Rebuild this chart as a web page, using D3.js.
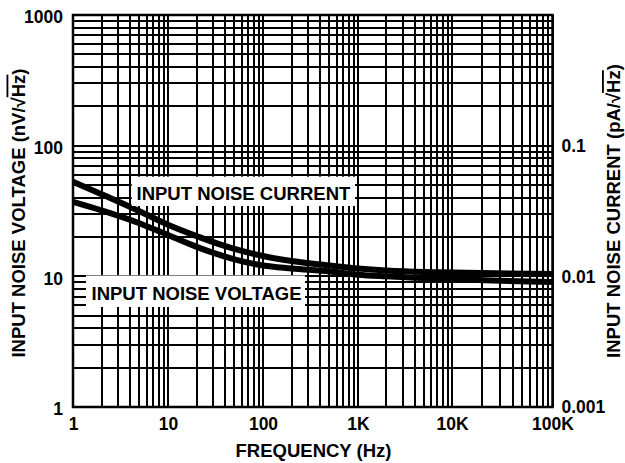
<!DOCTYPE html>
<html>
<head>
<meta charset="utf-8">
<script src="https://cdn.jsdelivr.net/npm/d3@7"></script>
<style>
  html, body { margin: 0; padding: 0; background: #fff; }
  svg { display: block; }
  text { font-family: "Liberation Sans", Arial, Helvetica, sans-serif; font-weight: bold; fill: #000; }
</style>
</head>
<body>
<svg id="chart" width="625" height="463"></svg>
<script>
// ---- data ----
const freqHz       = [1, 2, 5, 10, 20, 50, 100, 200, 500, 1000, 2000, 5000, 10000, 100000];
const voltageNoise = [37.2, 32.0, 25.5, 20.7, 16.8, 13.5, 12.1, 11.5, 10.9, 10.3, 10.0, 9.7, 9.5, 9.05]; // nV/rtHz
const currentNoise = [0.053, 0.0425, 0.0315, 0.0248, 0.0203, 0.0162, 0.0143, 0.0131, 0.0121, 0.0115, 0.0111, 0.0108, 0.0107, 0.0104]; // pA/rtHz
const xTickValues  = [1, 10, 100, 1000, 10000, 100000];
const xTickLabels  = ["1", "10", "100", "1K", "10K", "100K"];
const yTickValues  = [1, 10, 100, 1000];
const y2TickValues = [0.001, 0.01, 0.1];
const xDecades     = [1, 10, 100, 1000, 10000, 100000];
const yDecades     = [1, 10, 100, 1000];

// ---- layout ----
const L = 73, R = 552.5, T = 15, B = 407;
const svg = d3.select("#chart");

const x = d3.scaleLog().domain(xDecades).range([73, 168, 263, 358, 452, 552.5]);
const y = d3.scaleLog().domain([1, 1000]).range([B, T]);
const y2 = d3.scaleLog().domain([0.001, 1]).range([B, T]);

// grid values
const gridX = [];
xDecades.slice(0, -1).forEach(d => { for (let k = 1; k <= 9; k++) gridX.push(d * k); });
gridX.push(xDecades[xDecades.length - 1]);
const gridY = [];
yDecades.slice(0, -1).forEach(d => { for (let k = 1; k <= 9; k++) gridY.push(d * k); });
gridY.push(yDecades[yDecades.length - 1]);

const grid = svg.append("g").attr("stroke", "#000").attr("stroke-width", 2).attr("shape-rendering", "crispEdges");
grid.selectAll("line.v").data(gridX).enter().append("line")
  .attr("x1", d => x(d)).attr("x2", d => x(d)).attr("y1", T).attr("y2", B);
grid.selectAll("line.h").data(gridY).enter().append("line")
  .attr("x1", L).attr("x2", R).attr("y1", d => y(d)).attr("y2", d => y(d));
svg.append("rect").attr("x", L).attr("y", T).attr("width", R - L).attr("height", B - T)
  .attr("fill", "none").attr("stroke", "#000").attr("stroke-width", 2.5);

// curves
const line = d3.line().curve(d3.curveMonotoneX);
const vPts = freqHz.map((f, i) => [x(f), y(voltageNoise[i])]);
const iPts = freqHz.map((f, i) => [x(f), y2(currentNoise[i])]);
svg.append("path").attr("d", line(vPts)).attr("fill", "none").attr("stroke", "#000").attr("stroke-width", 6);
svg.append("path").attr("d", line(iPts)).attr("fill", "none").attr("stroke", "#000").attr("stroke-width", 6);

// label boxes
function label(txt, bx, by, bw, bh, tx, ty) {
  svg.append("rect").attr("x", bx).attr("y", by).attr("width", bw).attr("height", bh).attr("fill", "#fff");
  svg.append("text").attr("x", tx).attr("y", ty).attr("font-size", 18.5).text(txt);
}
label("INPUT NOISE CURRENT", 131.7, 176.7, 223.3, 29.3, 136.5, 199.5);
label("INPUT NOISE VOLTAGE", 86, 275.5, 219, 31.5, 91.5, 299.5);

// axes (labels only)
function styleAxis(g) {
  g.select(".domain").remove();
  g.selectAll("line").remove();
  g.selectAll("text").attr("font-family", "'Liberation Sans', Arial, sans-serif")
    .attr("font-weight", "bold").attr("font-size", 17.5).attr("fill", "#000");
}
svg.append("g").attr("transform", `translate(${L},0)`)
  .call(d3.axisLeft(y).tickValues(yTickValues).tickFormat(d3.format("d")).tickSize(0).tickPadding(10))
  .call(styleAxis).attr("font-size", null).attr("font-family", null)
  .selectAll("text").attr("dy", "0.44em");
svg.append("g").attr("transform", `translate(${R},0)`)
  .call(d3.axisRight(y2).tickValues(y2TickValues).tickFormat(d => String(d)).tickSize(0).tickPadding(9))
  .call(styleAxis).attr("font-size", null).attr("font-family", null)
  .selectAll("text").attr("dy", "0.34em");
svg.append("g").attr("transform", `translate(0,${B})`)
  .call(d3.axisBottom(x).tickValues(xTickValues).tickFormat((d, i) => xTickLabels[i]).tickSize(0).tickPadding(11))
  .call(styleAxis).attr("font-size", null).attr("font-family", null);

// axis titles
svg.append("text").attr("x", 313.5).attr("y", 456.5).attr("text-anchor", "middle").attr("font-size", 18.5)
  .text("FREQUENCY (Hz)");

function rtTitle(prefix, tx, ty) {
  const t = svg.append("text").attr("transform", `translate(${tx},${ty}) rotate(-90)`)
    .attr("text-anchor", "middle").attr("font-size", 18.5);
  t.append("tspan").text(prefix + "\u221A");
  t.append("tspan").attr("text-decoration", "overline").text("Hz");
  t.append("tspan").text(")");
}
rtTitle("INPUT NOISE VOLTAGE (nV/", 24.5, 213);
rtTitle("INPUT NOISE CURRENT (pA/", 620, 211);
</script>
</body>
</html>
